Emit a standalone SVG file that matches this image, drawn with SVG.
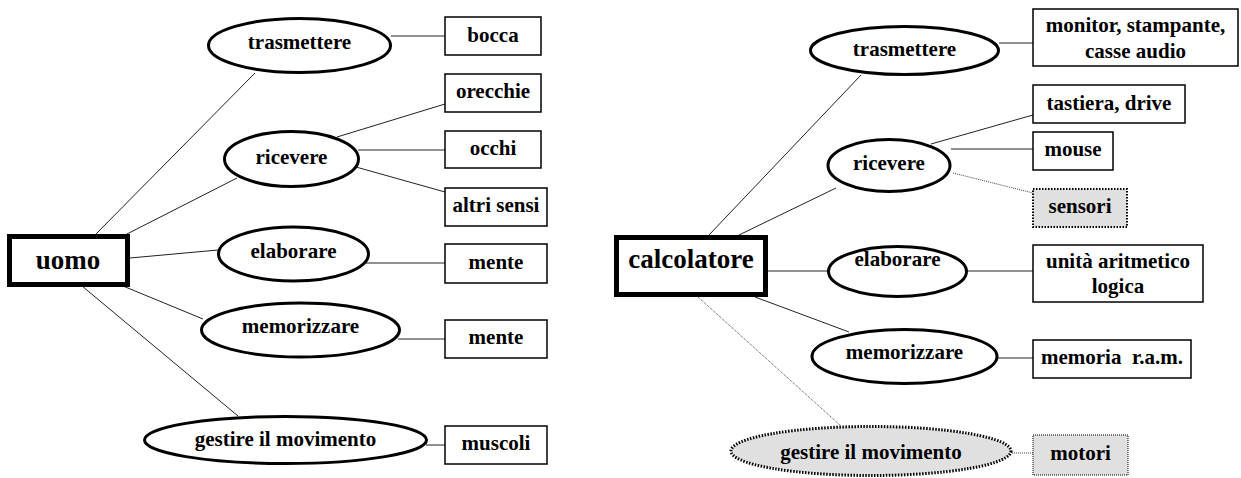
<svg xmlns="http://www.w3.org/2000/svg" width="1241" height="478" viewBox="0 0 1241 478">
  <style>
    text { font-family: "Liberation Serif", "Times New Roman", serif; font-weight: bold; font-size: 21px; fill: #000; text-anchor: middle; white-space: pre; }
    .big { font-size: 27px; }
    .ell { fill: #fff; stroke: #000; stroke-width: 3; }
    .ell-opt { fill: #e0e0e0; stroke: #000; stroke-width: 3; stroke-dasharray: 1.5 1.5; }
    .box { fill: #fff; stroke: #000; stroke-width: 1.5; }
    .box-opt { fill: #e0e0e0; stroke: #000; stroke-width: 2; stroke-dasharray: 1.5 1.5; }
    .box-opt-thin { fill: #e0e0e0; stroke: #000; stroke-width: 1; stroke-dasharray: 1 1; }
    .root { fill: #fff; stroke: #000; stroke-width: 5; }
    .edge { stroke: #222; stroke-width: 1; fill: none; }
    .edge-opt { stroke: #444; stroke-width: 1; stroke-dasharray: 1 1; fill: none; }
  </style>

  <!-- connectors -->
  <g id="connectors">
    <!-- uomo -->
    <line class="edge" x1="95" y1="235" x2="255" y2="73"/>
    <line class="edge" x1="125" y1="235" x2="237" y2="178"/>
    <line class="edge" x1="130" y1="258" x2="218" y2="250"/>
    <line class="edge" x1="123" y1="286" x2="203" y2="319"/>
    <line class="edge" x1="82" y1="286" x2="238" y2="416"/>
    <line class="edge" x1="391" y1="36" x2="445" y2="36"/>
    <line class="edge" x1="337" y1="137" x2="445" y2="104"/>
    <line class="edge" x1="358" y1="150" x2="445" y2="150"/>
    <line class="edge" x1="356" y1="167" x2="445" y2="192"/>
    <line class="edge" x1="366" y1="263" x2="445" y2="263"/>
    <line class="edge" x1="398" y1="339" x2="445" y2="339"/>
    <line class="edge" x1="426" y1="445" x2="445" y2="445"/>
    <!-- calcolatore -->
    <line class="edge" x1="709" y1="235" x2="861" y2="75"/>
    <line class="edge" x1="739" y1="235" x2="836" y2="188"/>
    <line class="edge" x1="768" y1="271" x2="828" y2="271"/>
    <line class="edge" x1="755" y1="297" x2="849" y2="332"/>
    <line class="edge-opt" x1="698" y1="297" x2="841" y2="426"/>
    <line class="edge" x1="999" y1="43" x2="1033" y2="43"/>
    <line class="edge" x1="931" y1="144" x2="1033" y2="115"/>
    <line class="edge" x1="951" y1="149" x2="1033" y2="149"/>
    <line class="edge-opt" x1="953" y1="173" x2="1033" y2="193"/>
    <line class="edge" x1="967" y1="271" x2="1033" y2="271"/>
    <line class="edge" x1="997" y1="358" x2="1033" y2="358"/>
    <line class="edge-opt" x1="1012" y1="453" x2="1033" y2="453"/>
  </g>

  <!-- uomo -->
  <g id="uomo">
    <rect class="root" x="9.5" y="236.5" width="118" height="48"/>
    <text class="big" x="68" y="269">uomo</text>
  </g>
  <g id="u-trasmettere">
    <ellipse class="ell" cx="299.5" cy="45.5" rx="91" ry="27"/>
    <text x="299.5" y="49">trasmettere</text>
  </g>
  <g id="u-ricevere">
    <ellipse class="ell" cx="291.5" cy="159" rx="67" ry="27.5"/>
    <text x="291.5" y="164">ricevere</text>
  </g>
  <g id="u-elaborare">
    <ellipse class="ell" cx="293.5" cy="254" rx="75" ry="27"/>
    <text x="293.5" y="258">elaborare</text>
  </g>
  <g id="u-memorizzare">
    <ellipse class="ell" cx="300.5" cy="330" rx="99" ry="27"/>
    <text x="300.5" y="333">memorizzare</text>
  </g>
  <g id="u-gestire">
    <ellipse class="ell" cx="285.5" cy="440" rx="141" ry="23.5"/>
    <text x="285.5" y="446">gestire il movimento</text>
  </g>
  <g id="u-bocca">
    <rect class="box" x="445" y="17" width="96" height="38"/>
    <text x="493" y="42">bocca</text>
  </g>
  <g id="u-orecchie">
    <rect class="box" x="445" y="74" width="96" height="38"/>
    <text x="493" y="98">orecchie</text>
  </g>
  <g id="u-occhi">
    <rect class="box" x="445" y="131" width="96" height="37"/>
    <text x="493" y="155">occhi</text>
  </g>
  <g id="u-altri-sensi">
    <rect class="box" x="445" y="188" width="102" height="38"/>
    <text x="496" y="212">altri sensi</text>
  </g>
  <g id="u-mente-1">
    <rect class="box" x="445" y="244" width="102" height="39"/>
    <text x="496" y="269">mente</text>
  </g>
  <g id="u-mente-2">
    <rect class="box" x="445" y="320" width="102" height="38"/>
    <text x="496" y="344">mente</text>
  </g>
  <g id="u-muscoli">
    <rect class="box" x="445" y="426" width="102" height="38"/>
    <text x="496" y="450">muscoli</text>
  </g>

  <!-- calcolatore -->
  <g id="calcolatore">
    <rect class="root" x="616.5" y="237.5" width="149" height="57"/>
    <text class="big" x="691" y="268">calcolatore</text>
  </g>
  <g id="c-trasmettere">
    <ellipse class="ell" cx="904.5" cy="50.5" rx="94" ry="24"/>
    <text x="904.5" y="56">trasmettere</text>
  </g>
  <g id="c-ricevere">
    <ellipse class="ell" cx="889" cy="165.5" rx="61" ry="26"/>
    <text x="889" y="170">ricevere</text>
  </g>
  <g id="c-elaborare">
    <ellipse class="ell" cx="897.5" cy="271.5" rx="69" ry="25"/>
    <text x="897.5" y="266">elaborare</text>
  </g>
  <g id="c-memorizzare">
    <ellipse class="ell" cx="904.5" cy="356.5" rx="92.5" ry="27"/>
    <text x="904.5" y="359">memorizzare</text>
  </g>
  <g id="c-gestire">
    <ellipse class="ell-opt" cx="871" cy="451" rx="140" ry="24.5"/>
    <text x="871" y="459">gestire il movimento</text>
  </g>
  <g id="c-monitor">
    <rect class="box" x="1033" y="9" width="205" height="57"/>
    <text x="1135.5" y="32">monitor, stampante,</text>
    <text x="1135.5" y="58">casse audio</text>
  </g>
  <g id="c-tastiera">
    <rect class="box" x="1033" y="85" width="152" height="38"/>
    <text x="1109" y="110">tastiera, drive</text>
  </g>
  <g id="c-mouse">
    <rect class="box" x="1033" y="132" width="80" height="38"/>
    <text x="1073" y="156">mouse</text>
  </g>
  <g id="c-sensori">
    <rect class="box-opt" x="1033" y="189" width="94" height="38"/>
    <text x="1080" y="213">sensori</text>
  </g>
  <g id="c-unita">
    <rect class="box" x="1033" y="245" width="170" height="57"/>
    <text x="1118" y="268">unità aritmetico</text>
    <text x="1118" y="293">logica</text>
  </g>
  <g id="c-memoria">
    <rect class="box" x="1033" y="340" width="158" height="38"/>
    <text x="1112" y="364">memoria  r.a.m.</text>
  </g>
  <g id="c-motori">
    <rect class="box-opt-thin" x="1033" y="435" width="95" height="40"/>
    <text x="1080.5" y="460">motori</text>
  </g>
</svg>
